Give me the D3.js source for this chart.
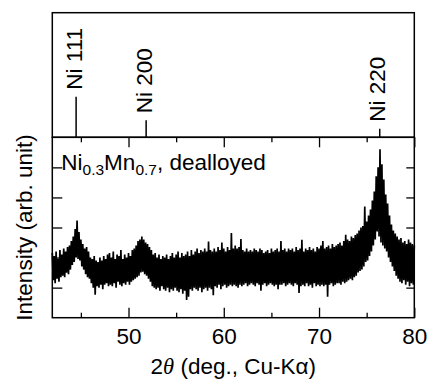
<!DOCTYPE html>
<html>
<head>
<meta charset="utf-8">
<script src="https://cdn.jsdelivr.net/npm/d3@7"></script>
<style>
body { margin: 0; background: #fff; }
text { font-family: "Liberation Sans", Arial, sans-serif; fill: #000; }
</style>
</head>
<body>
<div id="chart-area"></div>
<script>

// reference Ni lines for the top panel
let refLabels = ["Ni 111", "Ni 200", "Ni 220"];
let refAngles = [44.5, 51.85, 76.37];
let refIntensity = [100, 42, 21];

// measured pattern, 2theta from 42 deg in 0.1 deg steps (one row per degree)
let scanStart = 42;
let scanStep = 0.1;
let intensity = [
	2.15, 1.25, 2.05, 1.15, 2.2, 1.3, 1.95, 1.2, 2.25, 1.35,
	2.1, 1.4, 2.3, 1.35, 2.2, 1.5, 2.35, 1.45, 2.4, 1.6,
	2.55, 1.75, 2.7, 1.85, 2.95, 2.0, 3.23, 1.95, 2.85, 1.9,
	2.6, 1.7, 2.45, 1.6, 2.3, 1.45, 2.35, 1.35, 2.2, 1.3,
	2.0, 1.15, 1.95, 1.0, 2.05, 0.76, 1.9, 1.05, 1.85, 1.0,
	2.0, 1.1, 1.9, 0.95, 2.05, 1.1, 1.95, 1.15, 2.1, 1.05,
	2.15, 1.1, 2.0, 1.05, 2.2, 1.15, 1.95, 1.0, 2.1, 1.2,
	2.05, 1.1, 2.25, 1.05, 1.95, 1.15, 2.1, 1.1, 2.0, 1.2,
	2.15, 1.1, 2.05, 1.2, 2.25, 1.25, 2.3, 1.3, 2.4, 1.35,
	2.55, 1.4, 2.6, 1.5, 2.7, 1.53, 2.6, 1.45, 2.5, 1.4,
	2.45, 1.3, 2.35, 1.2, 2.25, 1.05, 2.1, 1.0, 2.15, 0.95,
	2.0, 1.0, 2.1, 0.9, 1.95, 1.05, 2.05, 0.95, 2.0, 0.9,
	2.1, 1.0, 1.95, 0.85, 2.05, 0.95, 2.15, 0.9, 2.0, 1.0,
	2.1, 0.9, 2.2, 0.85, 2.0, 0.95, 2.15, 0.8, 2.05, 0.9,
	2.1, 0.59, 2.2, 0.7, 2.05, 0.95, 2.25, 0.9, 2.1, 1.0,
	2.2, 0.95, 2.3, 0.9, 2.15, 1.0, 2.25, 0.85, 2.2, 0.95,
	2.3, 1.0, 2.2, 0.9, 2.53, 1.0, 2.25, 0.95, 2.2, 0.75,
	2.3, 1.05, 2.2, 1.0, 2.35, 1.1, 2.25, 0.95, 2.5, 1.05,
	2.3, 1.1, 2.2, 1.0, 2.35, 1.05, 2.25, 1.1, 2.82, 1.05,
	2.3, 1.1, 2.4, 1.05, 2.3, 1.0, 2.35, 1.1, 2.62, 1.05,
	2.25, 1.1, 2.2, 1.15, 2.3, 1.05, 2.2, 1.1, 2.25, 1.15,
	2.2, 1.1, 2.3, 1.05, 2.25, 1.15, 2.2, 1.1, 2.3, 0.9,
	2.25, 1.1, 2.15, 1.15, 2.2, 1.05, 2.25, 1.1, 2.15, 1.15,
	2.3, 1.1, 2.2, 1.05, 2.25, 1.1, 2.3, 0.95, 2.2, 1.1,
	2.55, 1.1, 2.25, 1.15, 2.3, 1.05, 2.2, 1.1, 2.3, 1.15,
	2.25, 1.1, 2.3, 1.05, 2.2, 1.15, 2.35, 1.1, 2.25, 0.82,
	2.3, 1.05, 2.59, 1.1, 2.2, 1.05, 2.3, 1.15, 2.25, 1.05,
	2.35, 1.1, 2.25, 1.0, 2.3, 1.15, 2.2, 1.05, 2.35, 1.1,
	2.3, 1.05, 2.4, 1.1, 2.55, 1.05, 2.3, 1.1, 2.35, 0.7,
	2.4, 1.1, 2.3, 1.15, 2.45, 1.05, 2.35, 1.1, 2.4, 1.15,
	2.45, 1.15, 2.5, 1.1, 2.4, 1.2, 2.55, 1.15, 2.76, 1.2,
	2.6, 1.25, 2.55, 1.3, 2.7, 1.25, 2.65, 1.35, 2.75, 1.4,
	2.8, 1.5, 2.9, 1.55, 3.0, 1.6, 3.05, 1.7, 3.7, 1.85,
	3.2, 1.9, 3.4, 2.05, 3.6, 2.2, 3.9, 2.4, 4.2, 2.6,
	4.7, 2.87, 5.0, 2.7, 5.6, 2.5, 5.1, 2.4, 4.6, 2.3,
	4.1, 2.2, 3.8, 2.0, 3.4, 1.85, 3.1, 1.7, 2.9, 1.55,
	2.8, 1.4, 2.7, 1.3, 2.6, 1.2, 2.65, 1.15, 2.5, 1.25,
	2.55, 1.1, 2.45, 1.2, 2.6, 1.05, 2.5, 1.15, 2.45, 1.1,
	2.4
];

// axis ticks
let xTicks = [50, 60, 70, 80];
let xMinorTicks = [45, 55, 65, 75];
let yTicks = [1, 2, 3, 4, 5];

let fontSize = 22.5;

let margin = {top: 12.7, right: 13.7, bottom: 62.3, left: 52.3};
let width = 428 - margin.left - margin.right;
let topHeight = 124.6;
let botHeight = 180.4;

let svg = d3.select("#chart-area").append("svg")
		.attr("width", 428)
		.attr("height", 380)
	.append("g")
		.attr("transform", "translate(" + margin.left + "," + margin.top + ")");

let x = d3.scaleLinear().domain([42, 80]).range([0, width]);
let yTop = d3.scaleLinear().domain([0, 307]).range([topHeight, 0]);
let y = d3.scaleLinear().domain([0, 6]).range([botHeight, 0]);

// ----- top panel: Ni reference sticks -----
let topPanel = svg.append("g");

topPanel.selectAll(".stick")
	.data(refAngles)
	.enter().append("line")
	.attr("class", "stick")
	.attr("x1", d => x(d)).attr("x2", d => x(d))
	.attr("y1", yTop(0))
	.attr("y2", (d, i) => yTop(refIntensity[i]))
	.attr("stroke", "#000")
	.attr("stroke-width", 1.5);

topPanel.selectAll(".ref-label")
	.data(refLabels)
	.enter().append("text")
	.attr("class", "ref-label")
	.attr("transform", (d, i) => "translate(" + (x(refAngles[i]) + 5.5) + "," + (yTop(refIntensity[i]) - 7) + ") rotate(-90)")
	.attr("font-size", fontSize)
	.text(d => d);

topPanel.append("rect")
	.attr("width", width).attr("height", topHeight)
	.attr("fill", "none").attr("stroke", "#000").attr("stroke-width", 1.5);

// ----- bottom panel: measured pattern -----
let botPanel = svg.append("g")
	.attr("transform", "translate(0," + topHeight + ")");

const line = d3.line()
	.x((d, i) => x(scanStart + i * scanStep))
	.y(d => y(d));

botPanel.append("path")
	.datum(intensity)
	.attr("d", line)
	.attr("fill", "none")
	.attr("stroke", "#000")
	.attr("stroke-width", 1.7)
	.attr("stroke-linejoin", "bevel");

// ticks, all pointing inward
botPanel.append("g")
	.attr("transform", "translate(0," + botHeight + ")")
	.call(d3.axisBottom(x).tickValues(xTicks).tickSize(-10).tickPadding(10).tickSizeOuter(0));
botPanel.append("g")
	.attr("transform", "translate(0," + botHeight + ")")
	.call(d3.axisBottom(x).tickValues(xMinorTicks).tickSize(-5).tickFormat(""));
botPanel.append("g")
	.call(d3.axisTop(x).tickValues(xTicks).tickSize(-10).tickFormat(""));
botPanel.append("g")
	.call(d3.axisTop(x).tickValues(xMinorTicks).tickSize(-5).tickFormat(""));
botPanel.append("g")
	.call(d3.axisLeft(y).tickValues(yTicks).tickSize(-10).tickFormat(""));
botPanel.append("g")
	.attr("transform", "translate(" + width + ",0)")
	.call(d3.axisRight(y).tickValues(yTicks).tickSize(-8).tickFormat(""));

botPanel.selectAll(".domain").remove();
botPanel.selectAll(".tick line").attr("stroke-width", 1.3);
botPanel.selectAll(".tick text")
	.attr("font-size", fontSize)
	.attr("font-family", "Liberation Sans, Arial, sans-serif");

botPanel.append("rect")
	.attr("width", width).attr("height", botHeight)
	.attr("fill", "none").attr("stroke", "#000").attr("stroke-width", 1.5);

// sample annotation
let note = botPanel.append("text")
	.attr("x", 9).attr("y", 33)
	.attr("font-size", fontSize);
note.append("tspan").text("Ni");
note.append("tspan").attr("font-size", 15.5).attr("dy", 5).text("0.3");
note.append("tspan").attr("dy", -5).text("Mn");
note.append("tspan").attr("font-size", 15.5).attr("dy", 5).text("0.7");
note.append("tspan").attr("dy", -5).text(", dealloyed");

// axis titles
let xTitle = svg.append("text")
	.attr("x", width / 2)
	.attr("y", topHeight + botHeight + 56)
	.attr("text-anchor", "middle")
	.attr("font-size", fontSize);
xTitle.append("tspan").text("2");
xTitle.append("tspan").attr("font-style", "italic").attr("font-family", "Liberation Serif, serif").text("\u03b8");
xTitle.append("tspan").text(" (deg., Cu-K\u03b1)");

svg.append("text")
	.attr("transform", "translate(" + (32 - margin.left) + "," + (topHeight + botHeight / 2) + ") rotate(-90)")
	.attr("text-anchor", "middle")
	.attr("font-size", fontSize)
	.text("Intensity (arb. unit)");

</script>
</body>
</html>
